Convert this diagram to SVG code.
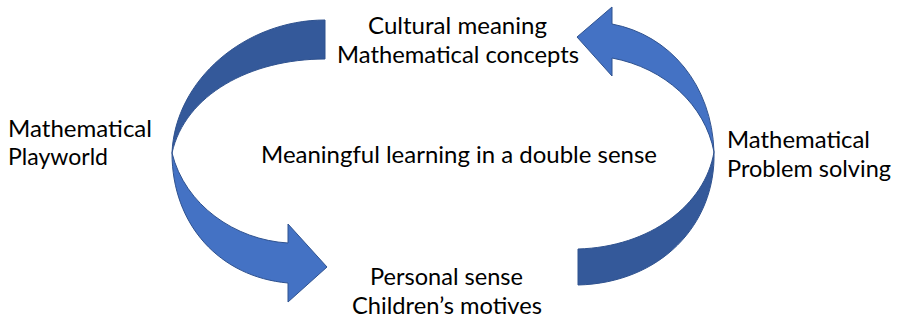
<svg xmlns="http://www.w3.org/2000/svg" width="899" height="322" viewBox="0 0 899 322">
<style>
text{font-family:Lato,"Open Sans","Liberation Sans",sans-serif;font-size:24px;fill:#000}
.dark{fill:#34599A;stroke:#2F528F;stroke-width:1}
.light{fill:#4472C4;stroke:#2F528F;stroke-width:1}
</style>
<rect width="899" height="322" fill="#fff"/>
<g id="connectors">
<g id="left-arrow">
<path class="dark" d="M325,20 L325,59 C250,59 185,95 172,153 C175,80 245,20 325,20 Z"/>
<path class="light" d="M172,153 C185,205 235,240 288,243 L288,224 L327,267 L288,302 L288,283 C220,277 172,225 172,153 Z"/>
</g>
<g id="right-arrow">
<path class="light" d="M577,37 L612,7 L612,24 C670,35 712,85 714,152 C705,105 665,68 612,58 L612,76 Z"/>
<path class="dark" d="M714,152 C716,225 660,283 578,285 L578,249 C650,247 705,205 714,152 Z"/>
</g>
</g>
<g id="top"><text x="368" y="34" textLength="179" lengthAdjust="spacingAndGlyphs">Cultural meaning</text><text x="337" y="63" textLength="242" lengthAdjust="spacingAndGlyphs">Mathematical concepts</text></g>
<g id="bottom"><text x="370" y="285" textLength="153" lengthAdjust="spacingAndGlyphs">Personal sense</text><text x="352" y="314" textLength="190" lengthAdjust="spacingAndGlyphs">Children’s motives</text></g>
<g id="left"><text x="8" y="137" textLength="144" lengthAdjust="spacingAndGlyphs">Mathematical</text><text x="8" y="165" textLength="100" lengthAdjust="spacingAndGlyphs">Playworld</text></g>
<g id="right"><text x="727" y="148" textLength="143" lengthAdjust="spacingAndGlyphs">Mathematical</text><text x="727" y="177" textLength="164" lengthAdjust="spacingAndGlyphs">Problem solving</text></g>
<g id="center"><text x="261" y="163" textLength="396" lengthAdjust="spacingAndGlyphs">Meaningful learning in a double sense</text></g>
</svg>
